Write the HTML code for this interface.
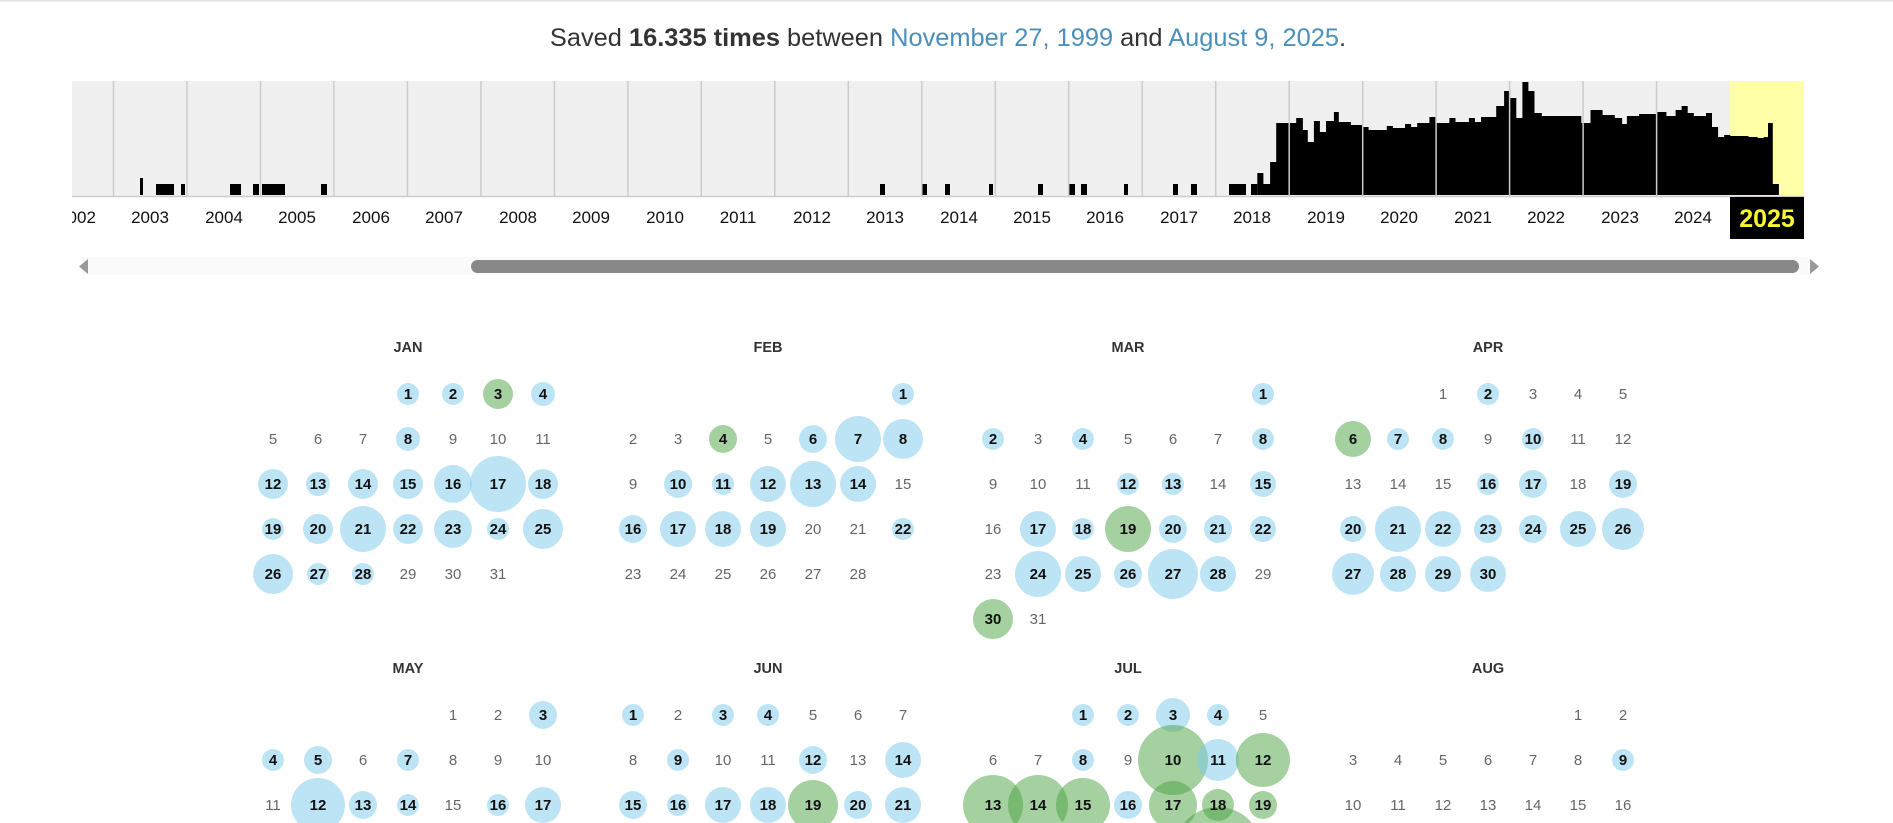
<!DOCTYPE html>
<html><head><meta charset="utf-8"><style>
html,body{margin:0;padding:0;background:#fff;width:1893px;height:823px;overflow:hidden}
svg{display:block;overflow:hidden}
text{font-family:"Liberation Sans",sans-serif}
.y{font-size:17px;fill:#111;text-anchor:middle}
.h{font-size:14.5px;font-weight:bold;fill:#333;text-anchor:middle}
.d text{font-size:15px;fill:#666;text-anchor:middle}
.d text.b{font-weight:bold;fill:#111}
.cb{fill:rgba(123,201,235,0.5)}
.cg{fill:rgba(75,161,65,0.5)}
</style></head><body>
<svg width="1893" height="823" viewBox="0 0 1893 823">
<rect x="0" y="0" width="1893" height="1.5" fill="#e2e2e2"/>
<text x="948" y="46" text-anchor="middle" style="font-size:25.4px;fill:#333">Saved <tspan font-weight="bold">16.335 times</tspan> between <tspan fill="#4c8fb8">November 27, 1999</tspan> and <tspan fill="#4c8fb8">August 9, 2025</tspan>.</text>
<defs><clipPath id="cp"><rect x="72" y="180" width="1740" height="60"/></clipPath></defs>
<rect x="72" y="81" width="1658" height="115" fill="#f0f0f0"/>
<rect x="1730" y="81" width="74" height="115" fill="#ffffa8"/>
<g fill="#000">
<rect x="140" y="178" width="3" height="17"/><rect x="156" y="184" width="18" height="11"/><rect x="181" y="184" width="4" height="11"/>
<rect x="230" y="184" width="11" height="11"/><rect x="253" y="184" width="6" height="11"/><rect x="262" y="184" width="23" height="11"/>
<rect x="321" y="184" width="6" height="11"/><rect x="880" y="184" width="5" height="11"/><rect x="922" y="184" width="5" height="11"/>
<rect x="945" y="184" width="5" height="11"/><rect x="989" y="184" width="4" height="11"/><rect x="1038" y="184" width="5" height="11"/>
<rect x="1069" y="184" width="6" height="11"/><rect x="1081" y="184" width="6" height="11"/><rect x="1124" y="184" width="4" height="11"/>
<rect x="1173" y="184" width="5" height="11"/><rect x="1191" y="184" width="6" height="11"/><rect x="1229" y="184" width="17" height="11"/>
<rect x="1251" y="184" width="6.3" height="11"/>
<path d="M1257.3,195V173H1263.4V184H1270.1V162H1276.2V123H1296.2V118H1302.9V130H1307.8V142H1313.9V121H1319.9V132H1326V121H1333.9V112H1338.8V122H1350.9V125H1362.5V127H1368.6V130H1386.8V126H1392.9V128H1405V124H1411.1V127H1417.2V123H1429.4V117H1435.4V123H1449.4V118H1455.5V122H1468.9V118H1474.9V122H1481V117H1496.2V106H1504.1V91H1510.2V98H1516.3V118H1522.4V82H1528.4V91H1534.5V113H1541.8V116H1581.3V123H1590.5V110H1602.6V115H1614.8V118H1622.1V124H1626.9V116H1639.1V114H1657.3V112H1666.4V116H1675.6V110H1681.6V106H1687.7V113H1693.8V116H1706V113H1712V127H1718.1V137H1724.2V135H1730.3V136H1748.5V137H1757.6V138H1763.7V137H1768V123H1772.8V184H1778.9V195Z"/>
</g>
<g stroke="#ccc" stroke-width="1.5">
<line x1="113.5" y1="81" x2="113.5" y2="196"/><line x1="187" y1="81" x2="187" y2="196"/><line x1="260.5" y1="81" x2="260.5" y2="196"/><line x1="333.9" y1="81" x2="333.9" y2="196"/><line x1="407.4" y1="81" x2="407.4" y2="196"/><line x1="480.9" y1="81" x2="480.9" y2="196"/><line x1="554.4" y1="81" x2="554.4" y2="196"/><line x1="627.9" y1="81" x2="627.9" y2="196"/><line x1="701.3" y1="81" x2="701.3" y2="196"/><line x1="774.8" y1="81" x2="774.8" y2="196"/><line x1="848.3" y1="81" x2="848.3" y2="196"/><line x1="921.8" y1="81" x2="921.8" y2="196"/><line x1="995.3" y1="81" x2="995.3" y2="196"/><line x1="1068.7" y1="81" x2="1068.7" y2="196"/><line x1="1142.2" y1="81" x2="1142.2" y2="196"/><line x1="1215.7" y1="81" x2="1215.7" y2="196"/><line x1="1289.2" y1="81" x2="1289.2" y2="196"/><line x1="1362.7" y1="81" x2="1362.7" y2="196"/><line x1="1436.1" y1="81" x2="1436.1" y2="196"/><line x1="1509.6" y1="81" x2="1509.6" y2="196"/><line x1="1583.1" y1="81" x2="1583.1" y2="196"/><line x1="1656.6" y1="81" x2="1656.6" y2="196"/>
<line x1="72" y1="196.5" x2="1804" y2="196.5"/>
</g>
<rect x="1730" y="197" width="74" height="42" fill="#000"/>
<g clip-path="url(#cp)">
<text class="y" x="77" y="223">2002</text><text class="y" x="150" y="223">2003</text><text class="y" x="224" y="223">2004</text><text class="y" x="297" y="223">2005</text><text class="y" x="371" y="223">2006</text><text class="y" x="444" y="223">2007</text><text class="y" x="518" y="223">2008</text><text class="y" x="591" y="223">2009</text><text class="y" x="665" y="223">2010</text><text class="y" x="738" y="223">2011</text><text class="y" x="812" y="223">2012</text><text class="y" x="885" y="223">2013</text><text class="y" x="959" y="223">2014</text><text class="y" x="1032" y="223">2015</text><text class="y" x="1105" y="223">2016</text><text class="y" x="1179" y="223">2017</text><text class="y" x="1252" y="223">2018</text><text class="y" x="1326" y="223">2019</text><text class="y" x="1399" y="223">2020</text><text class="y" x="1473" y="223">2021</text><text class="y" x="1546" y="223">2022</text><text class="y" x="1620" y="223">2023</text><text class="y" x="1693" y="223">2024</text>
</g>
<text x="1767" y="227" text-anchor="middle" style="font-size:25px;font-weight:bold;fill:#f7f730">2025</text>
<rect x="82" y="257" width="1726" height="18" fill="#fafafa"/>
<rect x="471" y="260" width="1328" height="13" rx="6.5" fill="#888"/>
<polygon points="88,259 88,274 79,266.5" fill="#999"/>
<polygon points="1810,259 1810,274 1819,266.5" fill="#999"/>

<text class="h" x="408" y="352">JAN</text><text class="h" x="768" y="352">FEB</text><text class="h" x="1128" y="352">MAR</text><text class="h" x="1488" y="352">APR</text>
<text class="h" x="408" y="673">MAY</text><text class="h" x="768" y="673">JUN</text><text class="h" x="1128" y="673">JUL</text><text class="h" x="1488" y="673">AUG</text>

<g>
<circle class="cb" cx="408" cy="394" r="11"/><circle class="cb" cx="453" cy="394" r="11"/><circle class="cg" cx="498" cy="394" r="15"/><circle class="cb" cx="543" cy="394" r="12"/>
<circle class="cb" cx="408" cy="439" r="12"/>
<circle class="cb" cx="273" cy="484" r="15"/><circle class="cb" cx="318" cy="484" r="12"/><circle class="cb" cx="363" cy="484" r="15"/><circle class="cb" cx="408" cy="484" r="15"/><circle class="cb" cx="453" cy="484" r="19"/><circle class="cb" cx="498" cy="484" r="28"/><circle class="cb" cx="543" cy="484" r="15"/>
<circle class="cb" cx="273" cy="529" r="11"/><circle class="cb" cx="318" cy="529" r="15"/><circle class="cb" cx="363" cy="529" r="23"/><circle class="cb" cx="408" cy="529" r="15"/><circle class="cb" cx="453" cy="529" r="19"/><circle class="cb" cx="498" cy="529" r="11"/><circle class="cb" cx="543" cy="529" r="20"/>
<circle class="cb" cx="273" cy="574" r="20"/><circle class="cb" cx="318" cy="574" r="11"/><circle class="cb" cx="363" cy="574" r="11"/>
<circle class="cb" cx="903" cy="394" r="11"/>
<circle class="cg" cx="723" cy="439" r="14"/><circle class="cb" cx="813" cy="439" r="14"/><circle class="cb" cx="858" cy="439" r="23"/><circle class="cb" cx="903" cy="439" r="20"/>
<circle class="cb" cx="678" cy="484" r="14"/><circle class="cb" cx="723" cy="484" r="11"/><circle class="cb" cx="768" cy="484" r="18"/><circle class="cb" cx="813" cy="484" r="23"/><circle class="cb" cx="858" cy="484" r="18"/>
<circle class="cb" cx="633" cy="529" r="14"/><circle class="cb" cx="678" cy="529" r="18"/><circle class="cb" cx="723" cy="529" r="18"/><circle class="cb" cx="768" cy="529" r="18"/><circle class="cb" cx="903" cy="529" r="11"/>
<circle class="cb" cx="1263" cy="394" r="11"/>
<circle class="cb" cx="993" cy="439" r="11"/><circle class="cb" cx="1083" cy="439" r="11"/><circle class="cb" cx="1263" cy="439" r="11"/>
<circle class="cb" cx="1128" cy="484" r="11"/><circle class="cb" cx="1173" cy="484" r="11"/><circle class="cb" cx="1263" cy="484" r="13"/>
<circle class="cb" cx="1038" cy="529" r="18"/><circle class="cb" cx="1083" cy="529" r="11"/><circle class="cg" cx="1128" cy="529" r="23"/><circle class="cb" cx="1173" cy="529" r="14"/><circle class="cb" cx="1218" cy="529" r="14"/><circle class="cb" cx="1263" cy="529" r="13"/>
<circle class="cb" cx="1038" cy="574" r="23"/><circle class="cb" cx="1083" cy="574" r="18"/><circle class="cb" cx="1128" cy="574" r="14"/><circle class="cb" cx="1173" cy="574" r="25"/><circle class="cb" cx="1218" cy="574" r="18"/>
<circle class="cg" cx="993" cy="619" r="20"/>
<circle class="cb" cx="1488" cy="394" r="11"/>
<circle class="cg" cx="1353" cy="439" r="18"/><circle class="cb" cx="1398" cy="439" r="11"/><circle class="cb" cx="1443" cy="439" r="11"/><circle class="cb" cx="1533" cy="439" r="11"/>
<circle class="cb" cx="1488" cy="484" r="11"/><circle class="cb" cx="1533" cy="484" r="14"/><circle class="cb" cx="1623" cy="484" r="14"/>
<circle class="cb" cx="1353" cy="529" r="13"/><circle class="cb" cx="1398" cy="529" r="23"/><circle class="cb" cx="1443" cy="529" r="18"/><circle class="cb" cx="1488" cy="529" r="14"/><circle class="cb" cx="1533" cy="529" r="14"/><circle class="cb" cx="1578" cy="529" r="18"/><circle class="cb" cx="1623" cy="529" r="21"/>
<circle class="cb" cx="1353" cy="574" r="21"/><circle class="cb" cx="1398" cy="574" r="18"/><circle class="cb" cx="1443" cy="574" r="18"/><circle class="cb" cx="1488" cy="574" r="18"/>
<circle class="cb" cx="543" cy="715" r="14"/>
<circle class="cb" cx="273" cy="760" r="11"/><circle class="cb" cx="318" cy="760" r="14"/><circle class="cb" cx="408" cy="760" r="11"/>
<circle class="cb" cx="318" cy="805" r="27"/><circle class="cb" cx="363" cy="805" r="14"/><circle class="cb" cx="408" cy="805" r="11"/><circle class="cb" cx="498" cy="805" r="11"/><circle class="cb" cx="543" cy="805" r="18"/>
<circle class="cb" cx="633" cy="715" r="11"/><circle class="cb" cx="723" cy="715" r="11"/><circle class="cb" cx="768" cy="715" r="11"/>
<circle class="cb" cx="678" cy="760" r="11"/><circle class="cb" cx="813" cy="760" r="14"/><circle class="cb" cx="903" cy="760" r="18"/>
<circle class="cb" cx="633" cy="805" r="14"/><circle class="cb" cx="678" cy="805" r="11"/><circle class="cb" cx="723" cy="805" r="18"/><circle class="cb" cx="768" cy="805" r="18"/><circle class="cg" cx="813" cy="805" r="25"/><circle class="cb" cx="858" cy="805" r="14"/><circle class="cb" cx="903" cy="805" r="18"/>
<circle class="cb" cx="1083" cy="715" r="11"/><circle class="cb" cx="1128" cy="715" r="11"/><circle class="cb" cx="1173" cy="715" r="17"/><circle class="cb" cx="1218" cy="715" r="11"/>
<circle class="cb" cx="1083" cy="760" r="11"/><circle class="cg" cx="1173" cy="760" r="35"/><circle class="cb" cx="1218" cy="760" r="21"/><circle class="cg" cx="1263" cy="760" r="27"/>
<circle class="cg" cx="993" cy="805" r="30"/><circle class="cg" cx="1038" cy="805" r="30"/><circle class="cg" cx="1083" cy="805" r="27"/><circle class="cb" cx="1128" cy="805" r="14"/><circle class="cg" cx="1173" cy="805" r="24"/><circle class="cg" cx="1218" cy="805" r="16"/><circle class="cg" cx="1263" cy="805" r="14"/>
<circle class="cg" cx="1218" cy="851" r="44"/>
<circle class="cb" cx="1623" cy="760" r="11"/>
</g>

<g class="d">
<text class="b" x="408" y="399">1</text><text class="b" x="453" y="399">2</text><text class="b" x="498" y="399">3</text><text class="b" x="543" y="399">4</text>
<text x="273" y="444">5</text><text x="318" y="444">6</text><text x="363" y="444">7</text><text class="b" x="408" y="444">8</text><text x="453" y="444">9</text><text x="498" y="444">10</text><text x="543" y="444">11</text>
<text class="b" x="273" y="489">12</text><text class="b" x="318" y="489">13</text><text class="b" x="363" y="489">14</text><text class="b" x="408" y="489">15</text><text class="b" x="453" y="489">16</text><text class="b" x="498" y="489">17</text><text class="b" x="543" y="489">18</text>
<text class="b" x="273" y="534">19</text><text class="b" x="318" y="534">20</text><text class="b" x="363" y="534">21</text><text class="b" x="408" y="534">22</text><text class="b" x="453" y="534">23</text><text class="b" x="498" y="534">24</text><text class="b" x="543" y="534">25</text>
<text class="b" x="273" y="579">26</text><text class="b" x="318" y="579">27</text><text class="b" x="363" y="579">28</text><text x="408" y="579">29</text><text x="453" y="579">30</text><text x="498" y="579">31</text>
<text class="b" x="903" y="399">1</text>
<text x="633" y="444">2</text><text x="678" y="444">3</text><text class="b" x="723" y="444">4</text><text x="768" y="444">5</text><text class="b" x="813" y="444">6</text><text class="b" x="858" y="444">7</text><text class="b" x="903" y="444">8</text>
<text x="633" y="489">9</text><text class="b" x="678" y="489">10</text><text class="b" x="723" y="489">11</text><text class="b" x="768" y="489">12</text><text class="b" x="813" y="489">13</text><text class="b" x="858" y="489">14</text><text x="903" y="489">15</text>
<text class="b" x="633" y="534">16</text><text class="b" x="678" y="534">17</text><text class="b" x="723" y="534">18</text><text class="b" x="768" y="534">19</text><text x="813" y="534">20</text><text x="858" y="534">21</text><text class="b" x="903" y="534">22</text>
<text x="633" y="579">23</text><text x="678" y="579">24</text><text x="723" y="579">25</text><text x="768" y="579">26</text><text x="813" y="579">27</text><text x="858" y="579">28</text>
<text class="b" x="1263" y="399">1</text>
<text class="b" x="993" y="444">2</text><text x="1038" y="444">3</text><text class="b" x="1083" y="444">4</text><text x="1128" y="444">5</text><text x="1173" y="444">6</text><text x="1218" y="444">7</text><text class="b" x="1263" y="444">8</text>
<text x="993" y="489">9</text><text x="1038" y="489">10</text><text x="1083" y="489">11</text><text class="b" x="1128" y="489">12</text><text class="b" x="1173" y="489">13</text><text x="1218" y="489">14</text><text class="b" x="1263" y="489">15</text>
<text x="993" y="534">16</text><text class="b" x="1038" y="534">17</text><text class="b" x="1083" y="534">18</text><text class="b" x="1128" y="534">19</text><text class="b" x="1173" y="534">20</text><text class="b" x="1218" y="534">21</text><text class="b" x="1263" y="534">22</text>
<text x="993" y="579">23</text><text class="b" x="1038" y="579">24</text><text class="b" x="1083" y="579">25</text><text class="b" x="1128" y="579">26</text><text class="b" x="1173" y="579">27</text><text class="b" x="1218" y="579">28</text><text x="1263" y="579">29</text>
<text class="b" x="993" y="624">30</text><text x="1038" y="624">31</text>
<text x="1443" y="399">1</text><text class="b" x="1488" y="399">2</text><text x="1533" y="399">3</text><text x="1578" y="399">4</text><text x="1623" y="399">5</text>
<text class="b" x="1353" y="444">6</text><text class="b" x="1398" y="444">7</text><text class="b" x="1443" y="444">8</text><text x="1488" y="444">9</text><text class="b" x="1533" y="444">10</text><text x="1578" y="444">11</text><text x="1623" y="444">12</text>
<text x="1353" y="489">13</text><text x="1398" y="489">14</text><text x="1443" y="489">15</text><text class="b" x="1488" y="489">16</text><text class="b" x="1533" y="489">17</text><text x="1578" y="489">18</text><text class="b" x="1623" y="489">19</text>
<text class="b" x="1353" y="534">20</text><text class="b" x="1398" y="534">21</text><text class="b" x="1443" y="534">22</text><text class="b" x="1488" y="534">23</text><text class="b" x="1533" y="534">24</text><text class="b" x="1578" y="534">25</text><text class="b" x="1623" y="534">26</text>
<text class="b" x="1353" y="579">27</text><text class="b" x="1398" y="579">28</text><text class="b" x="1443" y="579">29</text><text class="b" x="1488" y="579">30</text>
<text x="453" y="720">1</text><text x="498" y="720">2</text><text class="b" x="543" y="720">3</text>
<text class="b" x="273" y="765">4</text><text class="b" x="318" y="765">5</text><text x="363" y="765">6</text><text class="b" x="408" y="765">7</text><text x="453" y="765">8</text><text x="498" y="765">9</text><text x="543" y="765">10</text>
<text x="273" y="810">11</text><text class="b" x="318" y="810">12</text><text class="b" x="363" y="810">13</text><text class="b" x="408" y="810">14</text><text x="453" y="810">15</text><text class="b" x="498" y="810">16</text><text class="b" x="543" y="810">17</text>
<text class="b" x="633" y="720">1</text><text x="678" y="720">2</text><text class="b" x="723" y="720">3</text><text class="b" x="768" y="720">4</text><text x="813" y="720">5</text><text x="858" y="720">6</text><text x="903" y="720">7</text>
<text x="633" y="765">8</text><text class="b" x="678" y="765">9</text><text x="723" y="765">10</text><text x="768" y="765">11</text><text class="b" x="813" y="765">12</text><text x="858" y="765">13</text><text class="b" x="903" y="765">14</text>
<text class="b" x="633" y="810">15</text><text class="b" x="678" y="810">16</text><text class="b" x="723" y="810">17</text><text class="b" x="768" y="810">18</text><text class="b" x="813" y="810">19</text><text class="b" x="858" y="810">20</text><text class="b" x="903" y="810">21</text>
<text class="b" x="1083" y="720">1</text><text class="b" x="1128" y="720">2</text><text class="b" x="1173" y="720">3</text><text class="b" x="1218" y="720">4</text><text x="1263" y="720">5</text>
<text x="993" y="765">6</text><text x="1038" y="765">7</text><text class="b" x="1083" y="765">8</text><text x="1128" y="765">9</text><text class="b" x="1173" y="765">10</text><text class="b" x="1218" y="765">11</text><text class="b" x="1263" y="765">12</text>
<text class="b" x="993" y="810">13</text><text class="b" x="1038" y="810">14</text><text class="b" x="1083" y="810">15</text><text class="b" x="1128" y="810">16</text><text class="b" x="1173" y="810">17</text><text class="b" x="1218" y="810">18</text><text class="b" x="1263" y="810">19</text>
<text x="1578" y="720">1</text><text x="1623" y="720">2</text>
<text x="1353" y="765">3</text><text x="1398" y="765">4</text><text x="1443" y="765">5</text><text x="1488" y="765">6</text><text x="1533" y="765">7</text><text x="1578" y="765">8</text><text class="b" x="1623" y="765">9</text>
<text x="1353" y="810">10</text><text x="1398" y="810">11</text><text x="1443" y="810">12</text><text x="1488" y="810">13</text><text x="1533" y="810">14</text><text x="1578" y="810">15</text><text x="1623" y="810">16</text>
</g>
</svg>
</body></html>
